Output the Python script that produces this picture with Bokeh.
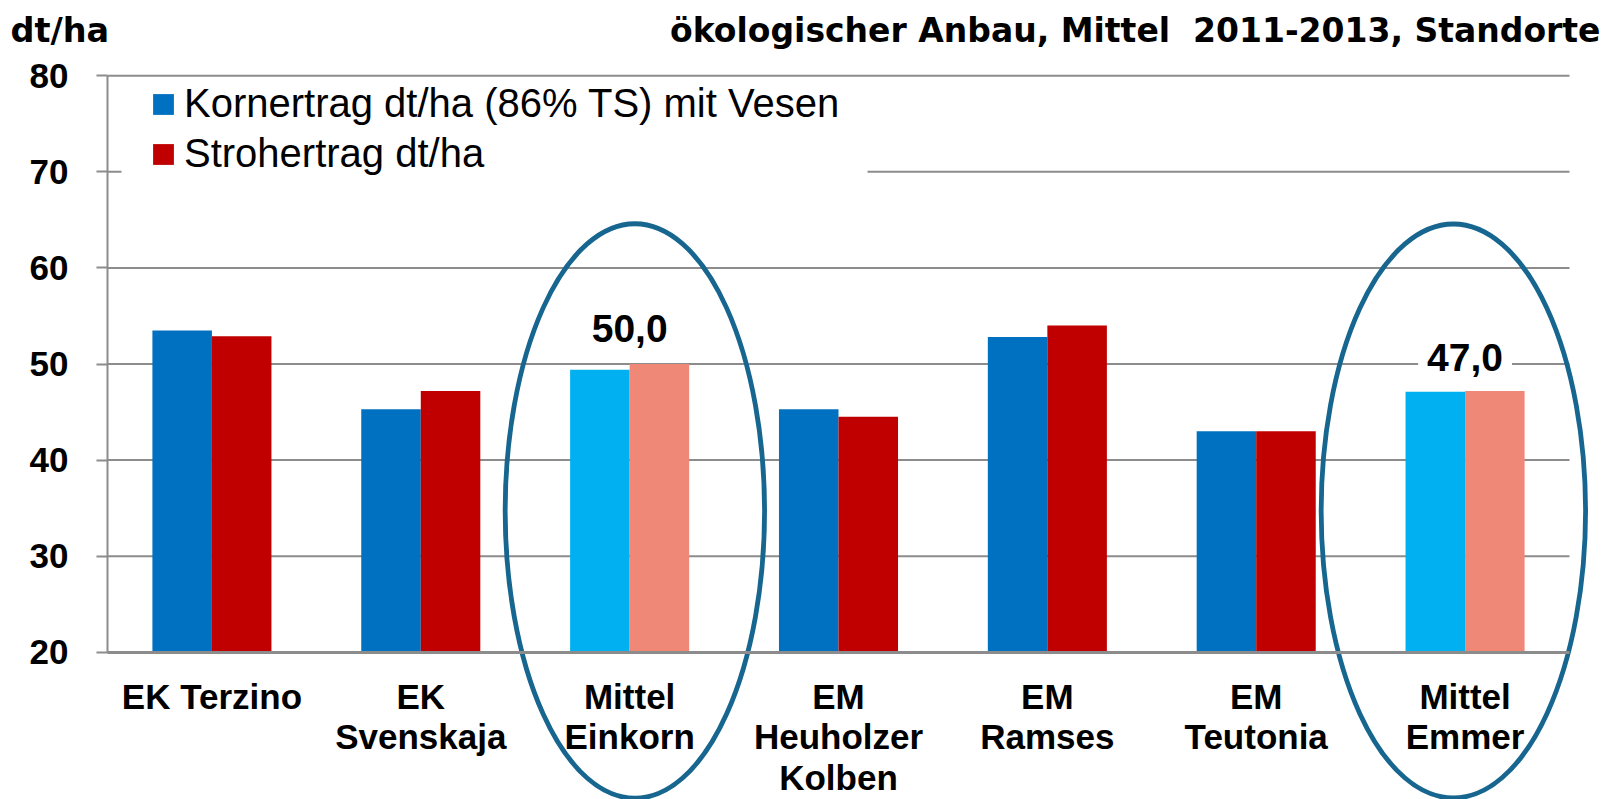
from bokeh.plotting import figure
from bokeh.models import (ColumnDataSource, Range1d, Label, LinearAxis,
                          Legend, LegendItem, FixedTicker)
from bokeh.transform import dodge
from bokeh.embed import file_html
from bokeh.resources import INLINE

# ---------------- data ----------------
categories = ["EK Terzino", "EK\nSvenskaja", "Mittel\nEinkorn", "EM\nHeuholzer\nKolben",
              "EM\nRamses", "EM\nTeutonia", "Mittel\nEmmer"]
korn = [53.5, 45.3, 49.4, 45.3, 52.8, 43.0, 47.1]
stroh = [52.9, 47.2, 50.0, 44.5, 54.0, 43.0, 47.2]
highlight_values = [None, None, 50.0, None, None, None, 47.0]
series_names = ["Kornertrag dt/ha (86% TS) mit Vesen", "Strohertrag dt/ha"]
y_ticks = [20, 30, 40, 50, 60, 70, 80]
unit_label = "dt/ha"
title_text = "ökologischer Anbau, Mittel  2011-2013, Standorte"

# ---------------- style / layout ----------------
FONT = "Liberation Sans"
HFONT = "DejaVu Sans"
BLUE, RED = "#0070C0", "#C00000"
LBLUE, SALMON = "#00B0F0", "#F08878"
GRID = "#8C8C8C"
ELLIPSE = "#17668F"

W, H = 1608, 799
PX_LEFT, PX_RIGHT = 107.0, 1569.0     # pixel extent of the category area
PX_TOP, PX_BOT = 75.3, 651.7          # pixel of y_ticks[-1] and y_ticks[0]
n = len(categories)
ppx = (PX_RIGHT - PX_LEFT) / n
ppy = (PX_BOT - PX_TOP) / (y_ticks[-1] - y_ticks[0])


def px_x(px):
    return -0.5 + (px - PX_LEFT) / ppx


def px_y(py):
    return y_ticks[0] + (PX_BOT - py) / ppy


is_mean = [c.startswith("Mittel") for c in categories]
korn_col = [LBLUE if m else BLUE for m in is_mean]
stroh_col = [SALMON if m else RED for m in is_mean]
xc = list(range(n))

src = ColumnDataSource(dict(xc=xc, korn=korn, stroh=stroh, kc=korn_col, sc=stroh_col,
                            base=[y_ticks[0]] * n))

p = figure(width=W, height=H,
           x_range=Range1d(px_x(0), px_x(W)), y_range=Range1d(px_y(H), px_y(0)),
           x_axis_type=None, y_axis_type=None,
           output_backend="svg", toolbar_location=None,
           min_border=0, min_border_left=0, min_border_right=0,
           min_border_top=0, min_border_bottom=0)
p.outline_line_color = None
p.background_fill_color = "white"
p.grid.visible = False

# horizontal grid lines across the category area
p.segment(x0=[-0.5] * len(y_ticks), x1=[n - 0.5] * len(y_ticks), y0=y_ticks, y1=y_ticks,
          line_color=GRID, line_width=2)

# white legend background (hides the grid line behind the legend)
p.quad(left=[px_x(121)], right=[px_x(867)], top=[px_y(77.5)], bottom=[px_y(186)],
       fill_color="white", line_color=None)

BW = 0.285
r1 = p.vbar(x=dodge("xc", -BW / 2), top="korn", bottom="base",
            width=BW, fill_color="kc", line_color=None, source=src)
r2 = p.vbar(x=dodge("xc", BW / 2), top="stroh", bottom="base",
            width=BW, fill_color="sc", line_color=None, source=src)

# y axis
yaxis = LinearAxis(ticker=FixedTicker(ticks=y_ticks), fixed_location=-0.5,
                   bounds=(y_ticks[0], y_ticks[-1]))
yaxis.axis_line_color = GRID
yaxis.axis_line_width = 2
yaxis.major_tick_line_color = GRID
yaxis.major_tick_line_width = 2
yaxis.major_tick_out = 11
yaxis.major_tick_in = 0
yaxis.minor_tick_line_color = None
yaxis.major_label_standoff = 28
yaxis.major_label_text_font = FONT
yaxis.major_label_text_font_style = "bold"
yaxis.major_label_text_font_size = "35px"
yaxis.major_label_text_color = "black"
p.add_layout(yaxis, "left")

# x axis with category labels
xaxis = LinearAxis(ticker=FixedTicker(ticks=xc), fixed_location=y_ticks[0],
                   bounds=(-0.5, n - 0.5),
                   major_label_overrides={i: c for i, c in zip(xc, categories)})
xaxis.axis_line_color = GRID
xaxis.axis_line_width = 3
xaxis.major_tick_line_color = None
xaxis.minor_tick_line_color = None
xaxis.major_tick_out = 0
xaxis.major_tick_in = 0
xaxis.major_label_standoff = 25
xaxis.major_label_text_font = FONT
xaxis.major_label_text_font_style = "bold"
xaxis.major_label_text_font_size = "35px"
xaxis.major_label_text_color = "black"
xaxis.major_label_text_line_height = 1.03
p.add_layout(xaxis, "below")

# value labels over highlighted groups
for i, v in enumerate(highlight_values):
    if v is None:
        continue
    p.add_layout(Label(x=xc[i], y=v + 3.7, text=f"{v:.1f}".replace(".", ","),
                       text_align="center", text_baseline="alphabetic",
                       text_font=FONT, text_font_style="bold", text_font_size="39px",
                       text_color="black", background_fill_color="white",
                       padding=9))

# ellipses around the mean groups
ellipse_shift = {2: 0.025, 6: -0.056}
ellipse_rx = {2: 0.621, 6: 0.633}
ell_cy, ell_ry = 34.7, 29.9
ex = [xc[i] + ellipse_shift[i] for i in range(n) if is_mean[i]]
ew = [2 * ellipse_rx[i] for i in range(n) if is_mean[i]]
p.ellipse(x=ex, y=[ell_cy] * len(ex), width=ew, height=[2 * ell_ry] * len(ex),
          fill_color=None, line_color=ELLIPSE, line_width=4.8)

# header texts (non-breaking space keeps the double space visible in SVG)
p.add_layout(Label(x=px_x(10), y=px_y(30), text=unit_label, text_align="left",
                   text_baseline="alphabetic", text_font=HFONT, text_font_style="bold",
                   text_font_size="33.5px", text_color="black"))
p.add_layout(Label(x=px_x(1600), y=px_y(30), text=title_text.replace("  ", " \u00a0"),
                   text_align="right", text_baseline="alphabetic", text_font=HFONT,
                   text_font_style="bold", text_font_size="33px", text_color="black"))

# legend
legend = Legend(items=[LegendItem(label=series_names[0], renderers=[r1], index=0),
                       LegendItem(label=series_names[1], renderers=[r2], index=0)],
                location=(150, 623), padding=6, spacing=5, margin=0,
                glyph_width=26, glyph_height=26, label_standoff=8, label_height=44,
                label_text_font=FONT, label_text_font_size="40px",
                label_text_color="black", border_line_color=None,
                background_fill_alpha=0.0)
p.add_layout(legend)

open("out.html", "w").write(file_html(p, INLINE))
